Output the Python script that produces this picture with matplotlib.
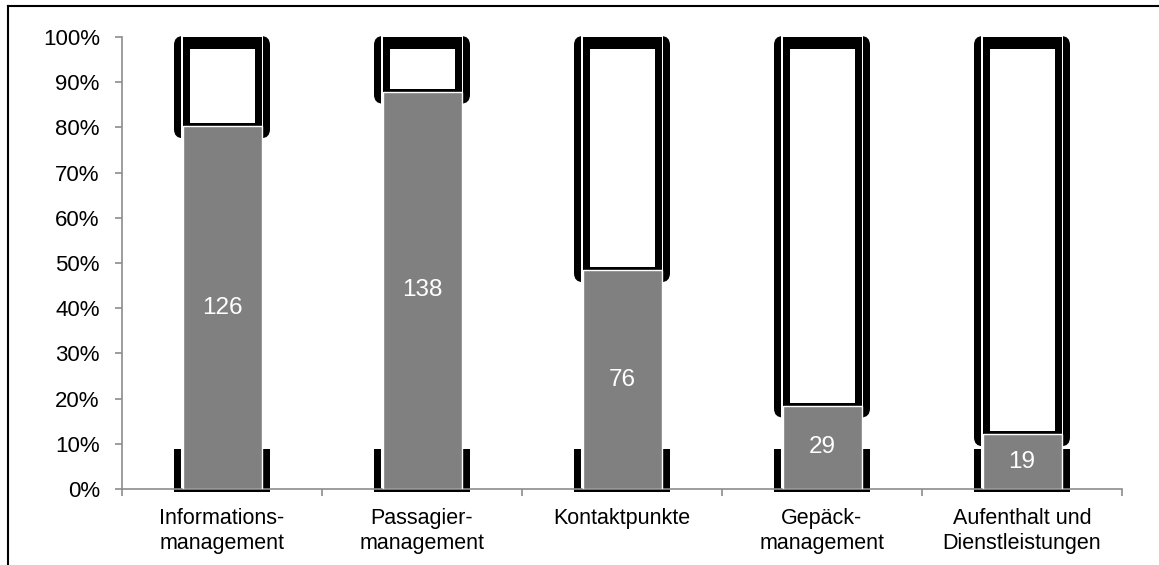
import matplotlib.pyplot as plt
from matplotlib.patches import FancyBboxPatch, Rectangle
from matplotlib.lines import Line2D

plt.rcParams['font.family'] = ['Liberation Sans', 'DejaVu Sans']

categories = ['Informations-\nmanagement', 'Passagier-\nmanagement', 'Kontaktpunkte',
              'Gepäck-\nmanagement', 'Aufenthalt und\nDienstleistungen']
counts = [126, 138, 76, 29, 19]
total = 157
y_ticks = list(range(0, 101, 10))

W, H = 1159, 565
fig = plt.figure(figsize=(W / 100, H / 100), dpi=100)
left, right, bottom, top = 122, 1122, 489, 37
ax = fig.add_axes([left / W, 1 - bottom / H, (right - left) / W, (bottom - top) / H])
ax.set_xlim(-0.5, len(categories) - 0.5)
ax.set_ylim(0, 100)

# pixel sizes in data units
px_x = len(categories) / (right - left)
px_y = 100 / (bottom - top)

share = [c / total * 100 for c in counts]
x = list(range(len(categories)))
bar_w = 79 * px_x

ax.bar(x, share, width=bar_w, color='#808080', edgecolor='white', linewidth=1, zorder=6)

for xi, s in zip(x, share):
    outer = 48 * px_x
    inner = 41 * px_x
    y0 = s - 12 * px_y
    # rounded outer frame around the remainder
    ax.add_patch(FancyBboxPatch((xi - outer, y0), 2 * outer, 100 + px_y - y0,
                                boxstyle=f"round,pad=0,rounding_size={9 * px_x}",
                                mutation_aspect=px_y / px_x,
                                fc='black', ec='none', clip_on=False, zorder=2))
    ax.add_patch(Rectangle((xi - inner, y0 - px_y), 2 * inner, 100 + 3 * px_y - y0,
                           fc='white', ec='none', clip_on=False, zorder=2.5))
    # remainder segment with heavy border
    ax.add_patch(Rectangle((xi - bar_w / 2, s), bar_w, 100 - s,
                           fc='black', ec='none', zorder=4))
    ax.add_patch(Rectangle((xi - 32.5 * px_x, s + 3 * px_y), 65 * px_x,
                           100 - 12 * px_y - (s + 3 * px_y),
                           fc='white', ec='none', zorder=5))
    # stubs at the base
    for sx in (xi - outer, xi + inner):
        ax.add_patch(Rectangle((sx, 0), outer - inner, 8.85, fc='black', ec='none', zorder=2))
    ax.add_patch(Rectangle((xi - outer, -2.5 * px_y), 2 * outer, 2.5 * px_y,
                           fc='black', ec='none', clip_on=False, zorder=1))

for xi, s, c in zip(x, share, counts):
    ax.text(xi, s / 2, str(c), ha='center', va='center', color='white', fontsize=17.5, zorder=7)

for side in ('top', 'right'):
    ax.spines[side].set_visible(False)
for side in ('left', 'bottom'):
    ax.spines[side].set_color('#8c8c8c')
    ax.spines[side].set_linewidth(1.2)

ax.set_yticks(y_ticks)
ax.set_yticklabels([f'{t}%' for t in y_ticks])
ax.tick_params(axis='y', direction='out', length=5, width=1.2, color='#8c8c8c',
               labelsize=16, labelcolor='black', pad=11)
ax.set_xticks(x)
ax.set_xticklabels(categories)
ax.set_xticks([i - 0.5 for i in range(len(categories) + 1)], minor=True)
ax.tick_params(axis='x', which='major', length=0, labelsize=15.5, labelcolor='black', pad=14)
ax.tick_params(axis='x', which='minor', direction='out', length=5, width=1.2, color='#8c8c8c')

# outer border of the figure
fig.add_artist(Line2D([8 / W, 8 / W], [0, 1 - 6 / H], transform=fig.transFigure, color='black', lw=1.5))
fig.add_artist(Line2D([8 / W, 1], [1 - 6 / H, 1 - 6 / H], transform=fig.transFigure, color='black', lw=1.5))

fig.savefig('out.png', dpi=100)
